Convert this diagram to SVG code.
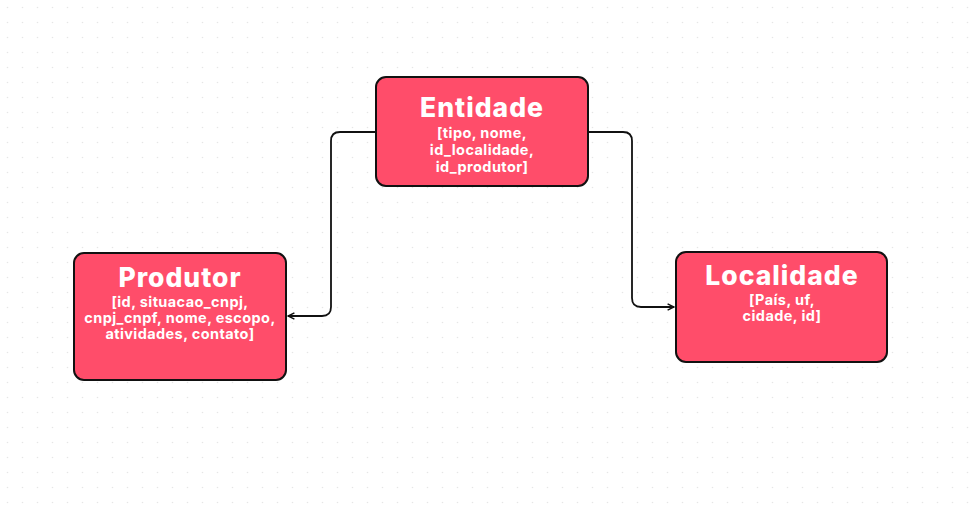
<svg xmlns="http://www.w3.org/2000/svg" width="979" height="513" viewBox="0 0 979 513">
<defs>
<style>
.box{fill:#FF4D6A;stroke:#111111;stroke-width:2}
.title{font-family:"Inter","Liberation Sans",sans-serif;font-weight:800;font-size:26.5px;letter-spacing:1px;fill:#ffffff;text-anchor:middle}
.sub{font-family:"Inter","Liberation Sans",sans-serif;font-weight:700;font-size:14.5px;letter-spacing:0.4px;fill:#ffffff;text-anchor:middle}
.conn{fill:none;stroke:#111111;stroke-width:1.8}
</style>
<pattern id="dots" width="15" height="15" patternUnits="userSpaceOnUse">
<circle cx="7.5" cy="7.5" r="0.8" fill="#e6e6e6"/>
</pattern>
<marker id="arr" viewBox="0 0 10 10" refX="9" refY="5" markerWidth="8" markerHeight="8" orient="auto-start-reverse" markerUnits="userSpaceOnUse">
<path d="M1,1 L9,5 L1,9" fill="none" stroke="#111111" stroke-width="1.8"/>
</marker>
</defs>
<rect width="979" height="513" fill="#ffffff"/>
<rect width="979" height="513" fill="url(#dots)"/>
<g id="connectors">
<path class="conn" d="M376,132 H340 Q331,132 331,141 V307 Q331,316 322,316 H288" marker-end="url(#arr)"/>
<path class="conn" d="M588,132 H623 Q632,132 632,141 V298 Q632,307 641,307 H674" marker-end="url(#arr)"/>
</g>
<g id="entidade">
<rect class="box" x="376" y="77" width="212" height="109" rx="10"/>
<text class="title" x="482" y="117">Entidade</text>
<text class="sub" x="482" y="138">[tipo, nome,</text>
<text class="sub" x="482" y="155">id_localidade,</text>
<text class="sub" x="482" y="172">id_produtor]</text>
</g>
<g id="produtor">
<rect class="box" x="74" y="253" width="212" height="127" rx="10"/>
<text class="title" x="180" y="287">Produtor</text>
<text class="sub" x="180" y="307">[id, situacao_cnpj,</text>
<text class="sub" x="180" y="323">cnpj_cnpf, nome, escopo,</text>
<text class="sub" x="180" y="339">atividades, contato]</text>
</g>
<g id="localidade">
<rect class="box" x="676" y="252" width="211" height="110" rx="10"/>
<text class="title" x="782" y="285">Localidade</text>
<text class="sub" x="782" y="305">[País, uf,</text>
<text class="sub" x="782" y="321">cidade, id]</text>
</g>
</svg>
